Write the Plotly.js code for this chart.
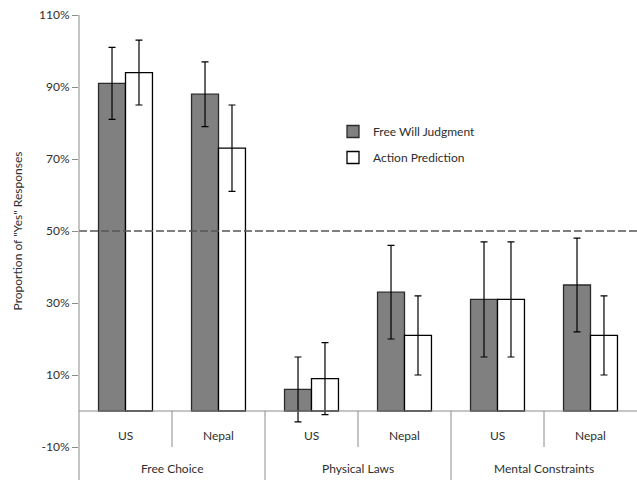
<!DOCTYPE html>
<html>
<head>
<meta charset="utf-8">
<script src="https://cdn.plot.ly/plotly-3.0.1.min.js"></script>
<style>html,body{margin:0;padding:0;background:#fff;}#chart{width:637px;height:480px;}</style>
</head>
<body>
<div id="chart"></div>
<script>
var conditions = ["Free Choice", "Physical Laws", "Mental Constraints"];
var countries = ["US", "Nepal", "US", "Nepal", "US", "Nepal"];
var seriesNames = ["Free Will Judgment", "Action Prediction"];
var freeWill = [91, 88, 6, 33, 31, 35];
var freeWillErr = [10, 9, 9, 13, 16, 13];
var actionPred = [94, 73, 9, 21, 31, 21];
var actionPredErr = [9, 12, 10, 11, 16, 11];
var yTickVals = [-10, 10, 30, 50, 70, 90, 110];
var yTickText = ["-10%", "10%", "30%", "50%", "70%", "90%", "110%"];
var threshold = 50;

var FONT = "Lato, 'Noto Sans', sans-serif";
var TXT = "#2e2e2e";
var AX = "#8c8c8c";
var xs = countries.map(function (c, i) { return i; });

var traces = [
  {
    type: "bar", name: seriesNames[0], x: xs, y: freeWill, legendgroup: "a",
    marker: { color: "#808080", line: { color: "#2b2b2b", width: 1.3 } },
    error_y: { type: "data", array: freeWillErr, visible: true, color: "#000", thickness: 1.2, width: 3.5 }
  },
  {
    type: "bar", name: seriesNames[1], x: xs, y: actionPred, legendgroup: "b",
    marker: { color: "#ffffff", line: { color: "#000000", width: 1.3 } },
    error_y: { type: "data", array: actionPredErr, visible: true, color: "#000", thickness: 1.2, width: 3.5 }
  }
];

var yMin = -10, yMax = 110;
var zeroPaper = (0 - yMin) / (yMax - yMin);
var bottomPaper = -33 / 432;

var shapes = [
  { type: "line", xref: "paper", yref: "y", x0: 0, x1: 1, y0: threshold, y1: threshold,
    line: { color: "#555555", width: 1.6, dash: "8px,3px" }, layer: "above" },
  { type: "line", xref: "paper", yref: "paper", x0: 0, x1: 0, y0: bottomPaper, y1: 1,
    line: { color: AX, width: 1 } },
  { type: "line", xref: "paper", yref: "paper", x0: 0, x1: 1, y0: zeroPaper, y1: zeroPaper,
    line: { color: AX, width: 1 }, layer: "above" }
];
for (var k = 1; k < countries.length; k++) {
  var isGroup = (k % 2 === 0);
  shapes.push({ type: "line", xref: "paper", yref: "paper", x0: k / countries.length, x1: k / countries.length,
    y0: zeroPaper, y1: isGroup ? bottomPaper : 0, line: { color: AX, width: 1 } });
}

var annotations = [];
countries.forEach(function (c, i) {
  annotations.push({ xref: "x", yref: "paper", x: i, y: (447 - 435) / 432, text: c, showarrow: false,
    font: { family: FONT, size: 12, color: TXT }, xanchor: "center", yanchor: "middle" });
});
conditions.forEach(function (c, g) {
  annotations.push({ xref: "x", yref: "paper", x: g * 2 + 0.5, y: (447 - 469) / 432, text: c, showarrow: false,
    font: { family: FONT, size: 12, color: TXT }, xanchor: "center", yanchor: "middle" });
});

var layout = {
  width: 637, height: 480,
  margin: { l: 79, r: 0, t: 15, b: 33 },
  paper_bgcolor: "#ffffff", plot_bgcolor: "#ffffff",
  barmode: "group", bargap: 0.42, bargroupgap: 0,
  showlegend: true,
  legend: {
    x: (333 - 79) / 558, y: (447 - 117) / 432, xanchor: "left", yanchor: "top",
    bgcolor: "rgba(0,0,0,0)", font: { family: FONT, size: 12, color: TXT },
    traceorder: "grouped", tracegroupgap: 7
  },
  xaxis: { range: [-0.5, 5.5], showticklabels: false, ticks: "", showgrid: false, zeroline: false, showline: false, fixedrange: true },
  yaxis: {
    range: [yMin, yMax], tickvals: yTickVals, ticktext: yTickText,
    ticks: "outside", ticklen: 6, tickcolor: AX, tickwidth: 1,
    showgrid: false, zeroline: false, showline: false,
    tickfont: { family: FONT, size: 12, color: TXT },
    title: { text: 'Proportion of "Yes" Responses', font: { family: FONT, size: 12, color: TXT }, standoff: 13 }
  },
  shapes: shapes,
  annotations: annotations,
  font: { family: FONT, color: TXT }
};

Plotly.newPlot("chart", traces, layout, { displayModeBar: false, staticPlot: true });
</script>
</body>
</html>
